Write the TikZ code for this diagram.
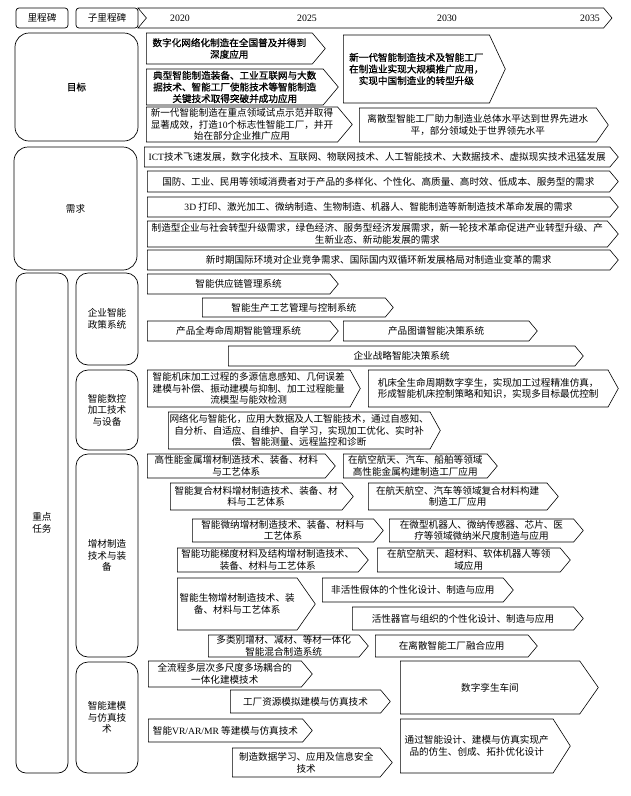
\documentclass[tikz,border=0pt]{standalone}
\usepackage{fontspec}
\setmainfont{Noto Sans CJK SC}[AutoFakeBold=0.9]
\newfontfamily\latin{Liberation Serif}
\usetikzlibrary{shapes.symbols}

\begin{document}
\begin{tikzpicture}[x=1pt, y=-1pt, font=\fontsize{9.6}{11.6}\selectfont,
      hdr/.style={draw, rounded corners=3pt, line width=0.7pt},
      cat/.style={draw, rounded corners=14pt, line width=0.7pt, align=center},
      stage/.style={draw, shape=signal, signal to=east, signal pointer angle=100,
                    line width=0.6pt, align=center, inner sep=0.5pt, anchor=west},
      yr/.style={font=\latin\fontsize{9.8}{11}\selectfont}]
    \useasboundingbox (0,0) rectangle (630,796);
    % header
    \node[hdr, minimum width=52pt, minimum height=20pt] (ms)    at (42,18)  {里程碑};
    \node[hdr, minimum width=62pt, minimum height=20pt] (subms) at (107,18) {子里程碑};
    \node[stage, signal from=west, minimum width=474pt, minimum height=20pt] (tl) at (146,18) {};
    \node[yr] (y2020) at (180,18) {2020};
    \node[yr] (y2025) at (307,18) {2025};
    \node[yr] (y2030) at (447,18) {2030};
    \node[yr] (y2035) at (590,18) {2035};

    % goals
    \node[cat, minimum width=123pt, minimum height=108pt] (goal) at (76.5,87) {\bfseries 目标};
    \node[stage, minimum width=179pt, minimum height=31pt] (g1) at (146,48.5)
      {\bfseries 数字化网络化制造在全国普及并得到\\\bfseries 深度应用};
    \node[stage, minimum width=192pt, minimum height=36pt] (g2) at (146,87)
      {\bfseries 典型智能制造装备、工业互联网与大数\\\bfseries 据技术、智能工厂使能技术等智能制造\\\bfseries 关键技术取得突破并成功应用};
    \node[stage, minimum width=206pt, minimum height=35pt] (g3) at (146,124.5)
      {新一代智能制造在重点领域试点示范并取得\\显著成效，打造{\latin 10}个标志性智能工厂，并开\\始在部分企业推广应用};
    \node[stage, signal pointer angle=130, minimum width=162pt, minimum height=68pt] (g4) at (343,69)
      {\bfseries 新一代智能制造技术及智能工厂\\\bfseries 在制造业实现大规模推广应用，\\\bfseries 实现中国制造业的转型升级};
    \node[stage, signal pointer angle=110, minimum width=249pt, minimum height=34pt] (g5) at (359,125)
      {离散型智能工厂助力制造业总体水平达到世界先进水\\平，部分领域处于世界领先水平};

    % needs
    \node[cat, minimum width=123pt, minimum height=123pt] (need) at (75.5,208.5) {需求};
    \node[stage, minimum width=474pt, minimum height=20pt] (n1) at (144,157)
      {{\latin ICT}技术飞速发展，数字化技术、互联网、物联网技术、人工智能技术、大数据技术、虚拟现实技术迅猛发展};
    \node[stage, minimum width=471pt, minimum height=21pt] (n2) at (147,181.5)
      {国防、工业、民用等领域消费者对于产品的多样化、个性化、高质量、高时效、低成本、服务型的需求};
    \node[stage, minimum width=471pt, minimum height=20pt] (n3) at (147,207)
      {{\latin 3D} 打印、激光加工、微纳制造、生物制造、机器人、智能制造等新制造技术革命发展的需求};
    \node[stage, minimum width=471pt, minimum height=26pt] (n4) at (147,234)
      {制造型企业与社会转型升级需求，绿色经济、服务型经济发展需求，新一轮技术革命促进产业转型升级、产\\生新业态、新动能发展的需求};
    \node[stage, minimum width=471pt, minimum height=20pt] (n5) at (147,260)
      {新时期国际环境对企业竞争需求、国际国内双循环新发展格局对制造业变革的需求};

    % key tasks
    \node[cat, rounded corners=10pt, minimum width=52pt, minimum height=500pt] (tasks) at (42,523) {重点\\任务};
    \node[cat, rounded corners=12pt, minimum width=62pt, minimum height=92pt]  (ent)   at (107,319) {企业智能\\政策系统};
    \node[cat, rounded corners=12pt, minimum width=62pt, minimum height=80pt]  (cnc)   at (107,410) {智能数控\\加工技术\\与设备};
    \node[cat, rounded corners=12pt, minimum width=62pt, minimum height=203pt] (add)   at (107,555.5) {增材制造\\技术与装\\备};
    \node[cat, rounded corners=12pt, minimum width=62pt, minimum height=111pt] (sim)   at (107,717.5) {智能建模\\与仿真技\\术};

    % enterprise systems
    \node[stage, minimum width=191pt, minimum height=20pt] (e1) at (147,284) {智能供应链管理系统};
    \node[stage, minimum width=191pt, minimum height=19pt] (e2) at (202,307.5) {智能生产工艺管理与控制系统};
    \node[stage, minimum width=191pt, minimum height=20pt] (e3) at (147,331) {产品全寿命周期智能管理系统};
    \node[stage, minimum width=194pt, minimum height=20pt] (e4) at (343,331) {产品图谱智能决策系统};
    \node[stage, minimum width=355pt, minimum height=20pt] (e5) at (228,356) {企业战略智能决策系统};

    % CNC
    \node[stage, signal pointer angle=122, minimum width=213pt, minimum height=37pt] (c1) at (147,388.5)
      {智能机床加工过程的多源信息感知、几何误差\\建模与补偿、振动建模与抑制、加工过程能量\\流模型与能效检测};
    \node[stage, signal pointer angle=122, minimum width=250pt, minimum height=37pt] (c2) at (368,388.5)
      {机床全生命周期数字孪生，实现加工过程精准仿真，\\形成智能机床控制策略和知识，实现多目标最优控制};
    \node[stage, signal pointer angle=122, minimum width=272pt, minimum height=37pt] (c3) at (168,430.5)
      {网络化与智能化，应用大数据及人工智能技术，通过自感知、\\自分析、自适应、自维护、自学习，实现加工优化、实时补\\偿、智能测量、远程监控和诊断};

    % additive manufacturing
    \node[stage, minimum width=188pt, minimum height=24pt] (a1) at (147,466)
      {高性能金属增材制造技术、装备、材料\\与工艺体系};
    \node[stage, minimum width=154pt, minimum height=24pt] (a2) at (343,466)
      {在航空航天、汽车、船舶等领域\\高性能金属构建制造工厂应用};
    \node[stage, minimum width=183pt, minimum height=27pt] (a3) at (170,496.5)
      {智能复合材料增材制造技术、装备、材\\料与工艺体系};
    \node[stage, minimum width=190pt, minimum height=27pt] (a4) at (368,496.5)
      {在航天航空、汽车等领域复合材料构建\\制造工厂应用};
    \node[stage, minimum width=191pt, minimum height=23pt] (a5) at (192,530.5)
      {智能微纳增材制造技术、装备、材料与\\工艺体系};
    \node[stage, minimum width=194pt, minimum height=23pt] (a6) at (389,530.5)
      {在微型机器人、微纳传感器、芯片、医\\疗等领域微纳米尺度制造与应用};
    \node[stage, minimum width=191pt, minimum height=24pt] (a7) at (177,560)
      {智能功能梯度材料及结构增材制造技术、\\装备、材料与工艺体系};
    \node[stage, minimum width=193pt, minimum height=24pt] (a8) at (377,560)
      {在航空航天、超材料、软体机器人等领\\域应用};
    \node[stage, signal pointer angle=110, minimum width=138pt, minimum height=52pt] (a9) at (177,604)
      {智能生物增材制造技术、装\\备、材料与工艺体系};
    \node[stage, minimum width=191pt, minimum height=24pt] (a10) at (322,590)
      {非活性假体的个性化设计、制造与应用};
    \node[stage, minimum width=231pt, minimum height=23pt] (a11) at (352,618.5)
      {活性器官与组织的个性化设计、制造与应用};
    \node[stage, minimum width=160pt, minimum height=22pt] (a12) at (208,646)
      {多类别增材、减材、等材一体化\\智能混合制造系统};
    \node[stage, minimum width=162pt, minimum height=22pt] (a13) at (375,646)
      {在离散智能工厂融合应用};

    % modelling and simulation
    \node[stage, minimum width=164pt, minimum height=26pt] (s1) at (148,674)
      {全流程多层次多尺度多场耦合的\\一体化建模技术};
    \node[stage, minimum width=160pt, minimum height=23pt] (s2) at (230,701.5)
      {工厂资源模拟建模与仿真技术};
    \node[stage, minimum width=164pt, minimum height=23pt] (s3) at (148,730.5)
      {智能{\latin VR/AR/MR} 等建模与仿真技术};
    \node[stage, minimum width=160pt, minimum height=29pt] (s4) at (232,762.5)
      {制造数据学习、应用及信息安全\\技术};
    \node[stage, signal pointer angle=110, minimum width=198pt, minimum height=53pt] (s5) at (400,687.5)
      {数字孪生车间};
    \node[stage, signal pointer angle=115, minimum width=170pt, minimum height=54pt] (s6) at (400,746)
      {通过智能设计、建模与仿真实现产\\品的仿生、创成、拓扑优化设计};
  \end{tikzpicture}
\end{document}
